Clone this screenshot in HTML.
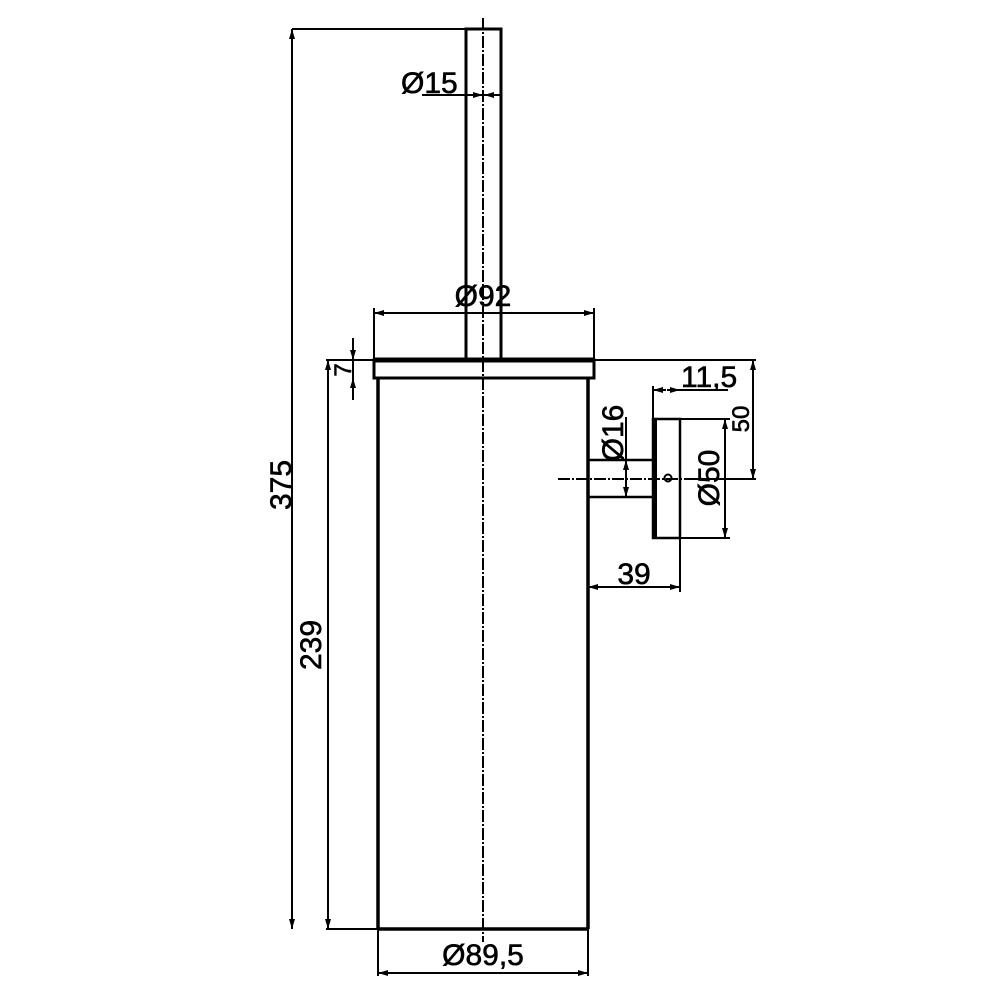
<!DOCTYPE html>
<html><head><style>body{margin:0;background:#fff}svg{display:block}</style></head><body>
<svg width="1000" height="1000" viewBox="0 0 1000 1000" xmlns="http://www.w3.org/2000/svg" font-family="Liberation Sans, sans-serif" fill="none" stroke="#000">
<defs>
<marker id="a" viewBox="0 0 10 6" refX="10" refY="3" markerWidth="10" markerHeight="6" orient="auto-start-reverse" markerUnits="userSpaceOnUse"><path d="M0,0 L10,3 L0,6 z" fill="#000" stroke="none"/></marker>
</defs>
<line x1="483" y1="18" x2="483" y2="942" stroke-width="2" stroke-dasharray="12,2,2,2"/>
<line x1="558" y1="479" x2="692" y2="479" stroke-width="2" stroke-dasharray="12,2,2,2"/>
<rect x="466" y="29" width="35" height="331" stroke-width="3"/>
<rect x="374" y="360" width="220" height="18" stroke-width="3"/>
<line x1="374" y1="360" x2="594" y2="360" stroke-width="5"/>
<line x1="378" y1="378" x2="378" y2="929" stroke-width="3.5"/>
<line x1="588" y1="378" x2="588" y2="929" stroke-width="3.5"/>
<line x1="378" y1="929" x2="588" y2="929" stroke-width="3.5"/>
<path d="M588,460 H653 M588,497 H653" stroke-width="2.5"/>
<rect x="653" y="419" width="27" height="119" stroke-width="2.5"/>
<line x1="655" y1="419" x2="655" y2="538" stroke-width="4"/>
<circle cx="668" cy="478" r="3.5" stroke-width="2"/>
<g stroke-width="2">
<path d="M292,29 H466 M326,360 H374 M594,360 H756 M326,929 H378 M374,360 V308 M594,360 V308 M378,929 V976 M588,929 V976 M653,419 V386 M680,419 V592 M680,419 H730 M680,538 H730 M692,479 H756 M588,538 V592 M422,95 H466 M626,417 V460"/>
<line x1="292" y1="29" x2="292" y2="929" marker-start="url(#a)" marker-end="url(#a)"/>
<line x1="328" y1="360" x2="328" y2="929" marker-start="url(#a)" marker-end="url(#a)"/>
<line x1="374" y1="313" x2="594" y2="313" marker-start="url(#a)" marker-end="url(#a)"/>
<line x1="378" y1="973" x2="588" y2="973" marker-start="url(#a)" marker-end="url(#a)"/>
<line x1="588" y1="587" x2="680" y2="587" marker-start="url(#a)" marker-end="url(#a)"/>
<line x1="725" y1="419" x2="725" y2="538" marker-start="url(#a)" marker-end="url(#a)"/>
<line x1="753" y1="360" x2="753" y2="479" marker-start="url(#a)" marker-end="url(#a)"/>
<line x1="626" y1="460" x2="626" y2="497" marker-start="url(#a)" marker-end="url(#a)"/>
<line x1="466" y1="95" x2="483" y2="95" marker-end="url(#a)"/>
<line x1="501" y1="95" x2="484" y2="95" marker-end="url(#a)"/>
<line x1="653" y1="390" x2="666" y2="390" marker-start="url(#a)"/>
<line x1="667" y1="390" x2="680" y2="390" marker-end="url(#a)"/>
<line x1="680" y1="390" x2="728" y2="390"/>
<line x1="353" y1="338" x2="353" y2="360" marker-end="url(#a)"/>
<line x1="353" y1="400" x2="353" y2="378" marker-end="url(#a)"/>
<line x1="353" y1="360" x2="353" y2="378"/>
</g>
<g fill="#000" stroke="#000" stroke-width="0.6" font-size="30">
<text x="401" y="93">Ø15</text>
<text x="483" y="306" text-anchor="middle">Ø92</text>
<text x="483" y="965" text-anchor="middle">Ø89,5</text>
<text x="634" y="584" text-anchor="middle">39</text>
<text x="681" y="387">11,5</text>
<text transform="translate(291,485) rotate(-90)" text-anchor="middle">375</text>
<text transform="translate(321,645) rotate(-90)" text-anchor="middle">239</text>
<text transform="translate(623,433) rotate(-90)" text-anchor="middle">Ø16</text>
<text transform="translate(719,478) rotate(-90)" text-anchor="middle">Ø50</text>
<text transform="translate(749,419) rotate(-90)" text-anchor="middle" font-size="24">50</text>
<text transform="translate(351,370) rotate(-90)" text-anchor="middle" font-size="24">7</text>
</g>
</svg>
</body></html>
